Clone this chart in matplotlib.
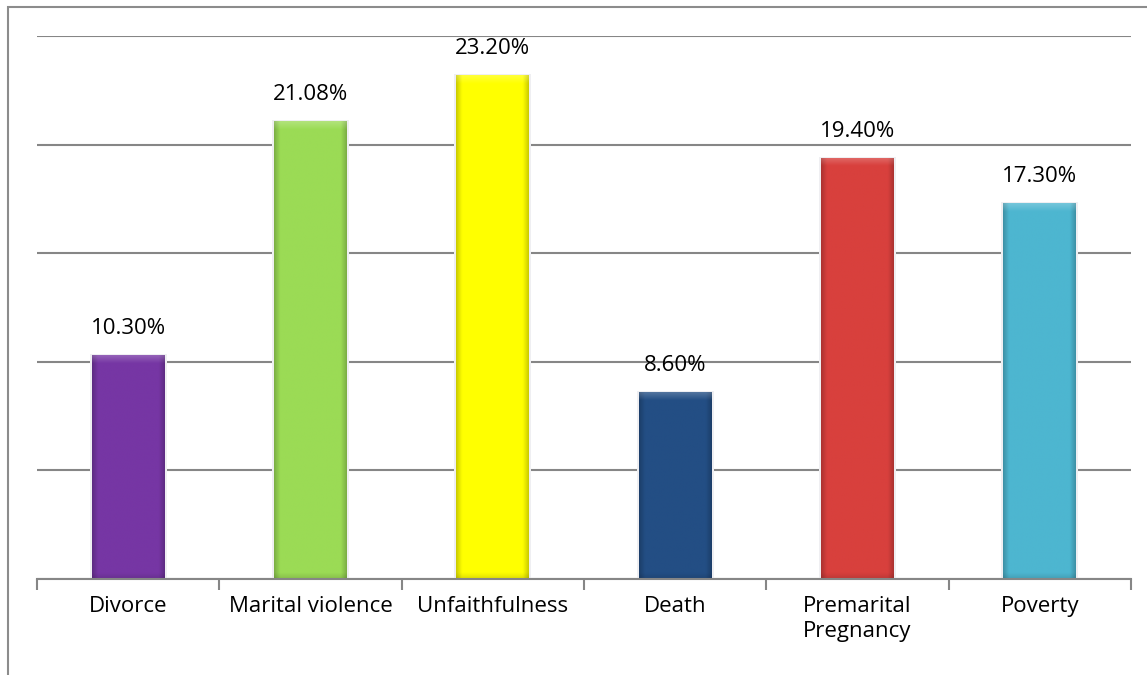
import matplotlib
matplotlib.use("Agg")
import matplotlib.pyplot as plt
from matplotlib.patches import Rectangle
from matplotlib.colors import to_rgb
import numpy as np

categories = ["Divorce", "Marital violence", "Unfaithfulness", "Death", "Premarital\nPregnancy", "Poverty"]
values = [10.30, 21.08, 23.20, 8.60, 19.40, 17.30]
labels = ["10.30%", "21.08%", "23.20%", "8.60%", "19.40%", "17.30%"]
colors = ["#7636A4", "#9BDB55", "#FFFF00", "#234E84", "#D8403D", "#4DB6D0"]

plt.rcParams['font.family'] = ['Open Sans', 'DejaVu Sans']

W, H = 1147, 675
fig = plt.figure(figsize=(W/100, H/100), dpi=100)
ax = fig.add_axes([37/W, (H-579)/H, (1131-37)/W, (579-36)/H])

x = np.arange(len(categories))
bw = 0.40
bars = ax.bar(x, values, width=bw, color=colors, edgecolor='none', zorder=3)

# bevel-like shading clipped to each bar
nx, ny = 80, 400
for b, c, v in zip(bars, colors, values):
    base = np.array(to_rgb(c))
    u = np.linspace(0, 1, nx)
    side = np.clip(np.minimum(u, 1 - u) / 0.08, 0, 1)
    fac_x = 0.80 + 0.20 * side
    img = np.ones((ny, nx, 3)) * base
    img = img * fac_x[None, :, None]
    hpx = v / 25 * 543
    rows = np.linspace(0, hpx, ny)
    top = np.clip(1 - rows / 8.0, 0, 1)
    img = img + (1 - img) * (0.22 * top)[:, None, None]
    bot = np.clip(1 - (hpx - rows) / 6.0, 0, 1)
    img = img * (1 - 0.12 * bot)[:, None, None]
    img = np.clip(img, 0, 1)
    bx = b.get_x()
    im = ax.imshow(img, extent=[bx, bx + bw, 0, v], aspect='auto', zorder=3.5,
                   interpolation='bilinear', origin='upper')
    im.set_clip_path(b)
    ax.add_patch(Rectangle((bx - 0.012, 0), bw + 0.024, v + 0.05, facecolor='#EFEFF2',
                           edgecolor='none', zorder=2.5))

for xi, v, lab in zip(x, values, labels):
    ax.annotate(lab, (xi, v), xytext=(0, 19), textcoords='offset points',
                ha='center', va='center', fontsize=16, color='black')

ax.set_xlim(-0.5, len(categories) - 0.5)
ax.set_ylim(0, 25)
ax.set_yticks([0, 5, 10, 15, 20, 25])
ax.yaxis.grid(True, color='#868686', linewidth=1.5, zorder=0)
ax.set_yticklabels([])
ax.tick_params(axis='y', length=0)

ax.set_xticks(x)
ax.set_xticklabels(categories, fontsize=16, linespacing=1.3)
ax.tick_params(axis='x', which='major', length=0, pad=12)
ax.set_xticks(np.arange(-0.5, len(categories)), minor=True)
ax.tick_params(axis='x', which='minor', length=8, width=1.5, color='#868686')

for s in ['top', 'right', 'left']:
    ax.spines[s].set_visible(False)
ax.spines['bottom'].set_color('#868686')
ax.spines['bottom'].set_linewidth(1.5)
ax.spines['bottom'].set_zorder(4)

fig.patches.append(Rectangle((8/W, -0.1), 1.2, (H-7)/H + 0.1, transform=fig.transFigure,
                             fill=False, edgecolor='#8C8C8C', linewidth=1.5))

fig.savefig("out.png", dpi=100)
